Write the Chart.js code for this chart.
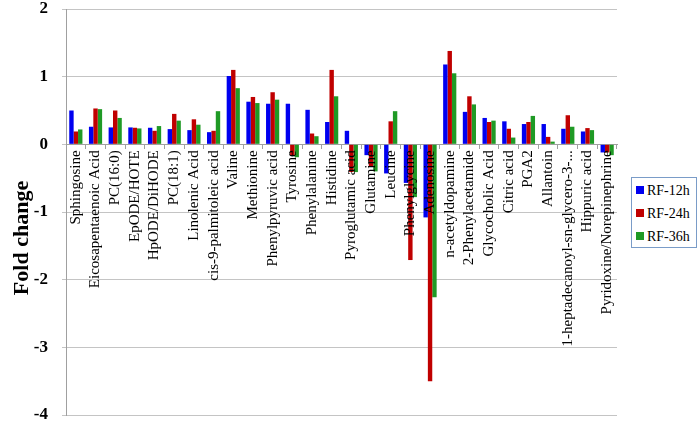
<!DOCTYPE html>
<html>
<head>
<meta charset="utf-8">
<script src="https://cdn.jsdelivr.net/npm/chart.js@4"></script>
<style>
  body { margin: 0; background: #fff; }
  #wrap { position: relative; width: 700px; height: 424px; }
  #legend {
    position: absolute; left: 631px; top: 177px; width: 64px; height: 69px;
    border: 1px solid #7a9cc8; background: #fff;
    font-family: "Liberation Serif", "Times New Roman", serif; font-size: 14px; color: #000;
  }
  #legend div { position: absolute; left: 4px; height: 16px; line-height: 16px; white-space: nowrap; }
  #legend span { display: inline-block; width: 8px; height: 8px; margin-right: 3px; vertical-align: 1px; }
</style>
</head>
<body>
<div id="wrap">
  <canvas id="chart" width="700" height="424"></canvas>
  <div id="legend"></div>
</div>
<script>
// metabolites
const labels = [
    "Sphingosine", "Eicosapentaenoic Acid", "PC(16:0)", "EpODE/HOTE", "HpODE/DiHODE",
    "PC(18:1)", "Linolenic Acid", "cis-9-palmitoleic acid", "Valine", "Methionine",
    "Phenylpyruvic acid", "Tyrosine", "Phenylalanine", "Histidine", "Pyroglutamic acid",
    "Glutamine", "Leucine", "Phenylglycine", "Adenosine", "n-acetyldopamine",
    "2-Phenylacetamide", "Glycocholic Acid", "Citric acid", "PGA2", "Allantoin",
    "1-heptadecanoyl-sn-glycero-3-...", "Hippuric acid", "Pyridoxine/Norepinephrine"
];

const rf12 = [0.50, 0.26, 0.25, 0.25, 0.245, 0.225, 0.21, 0.18, 1.01, 0.63,
              0.60, 0.60, 0.51, 0.33, 0.20, -0.16, -0.43, -0.57, -1.08, 1.18,
              0.48, 0.39, 0.34, 0.30, 0.30, 0.23, 0.19, -0.12];
const rf24 = [0.19, 0.53, 0.50, 0.245, 0.20, 0.45, 0.37, 0.20, 1.10, 0.70,
              0.77, -0.16, 0.16, 1.10, -0.41, -0.33, 0.34, -1.71, -3.50, 1.38,
              0.71, 0.33, 0.23, 0.33, 0.11, 0.43, 0.24, -0.12];
const rf36 = [0.22, 0.52, 0.39, 0.235, 0.27, 0.35, 0.29, 0.49, 0.83, 0.61,
              0.66, -0.19, 0.12, 0.71, -0.41, -0.40, 0.49, -0.78, -2.26, 1.05,
              0.59, 0.35, 0.10, 0.42, 0.04, 0.26, 0.21, -0.16];

const seriesNames = ["RF-12h", "RF-24h", "RF-36h"];
const colors = ["#0000f0", "#c00000", "#1f9a25"];
const yTicks = [-4, -3, -2, -1, 0, 1, 2];

const serif = "'Liberation Serif', 'Times New Roman', serif";

// legend as html
const legendEl = document.getElementById("legend");
seriesNames.forEach((name, i) => {
    const row = document.createElement("div");
    row.style.top = (5 + i * 23) + "px";
    row.innerHTML = '<span style="background:' + colors[i] + '"></span>' + name;
    legendEl.appendChild(row);
});

// y-axis title drawn a bit lower than center, like the original
const axisTitle = {
    id: "axisTitle",
    afterDraw(chart) {
        const ctx = chart.ctx;
        ctx.save();
        ctx.translate(22, 238);
        ctx.rotate(-Math.PI / 2);
        ctx.font = "bold 22px " + serif;
        ctx.fillStyle = "#000";
        ctx.textAlign = "center";
        ctx.textBaseline = "middle";
        ctx.fillText("Fold change", 0, 0);
        ctx.restore();
    }
};

const ctx = document.getElementById("chart").getContext("2d");
new Chart(ctx, {
    type: "bar",
    data: {
        labels: labels,
        datasets: [rf12, rf24, rf36].map((d, i) => ({
            label: seriesNames[i],
            data: d,
            backgroundColor: colors[i],
            borderWidth: 0,
            categoryPercentage: 0.67,
            barPercentage: 1.0
        }))
    },
    options: {
        responsive: false,
        animation: false,
        layout: { padding: { top: 9, bottom: 9, left: 0, right: 83 } },
        plugins: {
            legend: { display: false },
            tooltip: { enabled: false }
        },
        scales: {
            x: {
                position: { y: 0 },
                afterFit: (scale) => {
                    scale.height = 0;
                    scale.paddingLeft = 0;
                    scale.paddingRight = 0;
                    scale.paddingTop = 0;
                    scale.paddingBottom = 0;
                },
                grid: {
                    offset: true,
                    drawOnChartArea: false,
                    drawTicks: true,
                    tickLength: 4,
                    color: "#a0a0a0"
                },
                border: { display: true, color: "#a0a0a0" },
                ticks: {
                    z: 1, // labels on top of the bars
                    autoSkip: false,
                    minRotation: 90,
                    maxRotation: 90,
                    padding: 2,
                    color: "#000",
                    font: { family: serif, size: 15 }
                }
            },
            y: {
                min: -4,
                max: 2,
                afterFit: (scale) => {
                    scale.width = 66;
                    scale.paddingTop = 0;
                    scale.paddingBottom = 0;
                },
                afterBuildTicks: (scale) => { scale.ticks = yTicks.map(v => ({ value: v })); },
                grid: { color: "#c4c4c4", tickLength: 4, drawTicks: true },
                border: { display: true, color: "#a0a0a0" },
                ticks: {
                    padding: 14,
                    color: "#000",
                    font: { family: serif, size: 17, weight: "bold" }
                }
            }
        }
    },
    plugins: [axisTitle]
});
</script>
</body>
</html>
